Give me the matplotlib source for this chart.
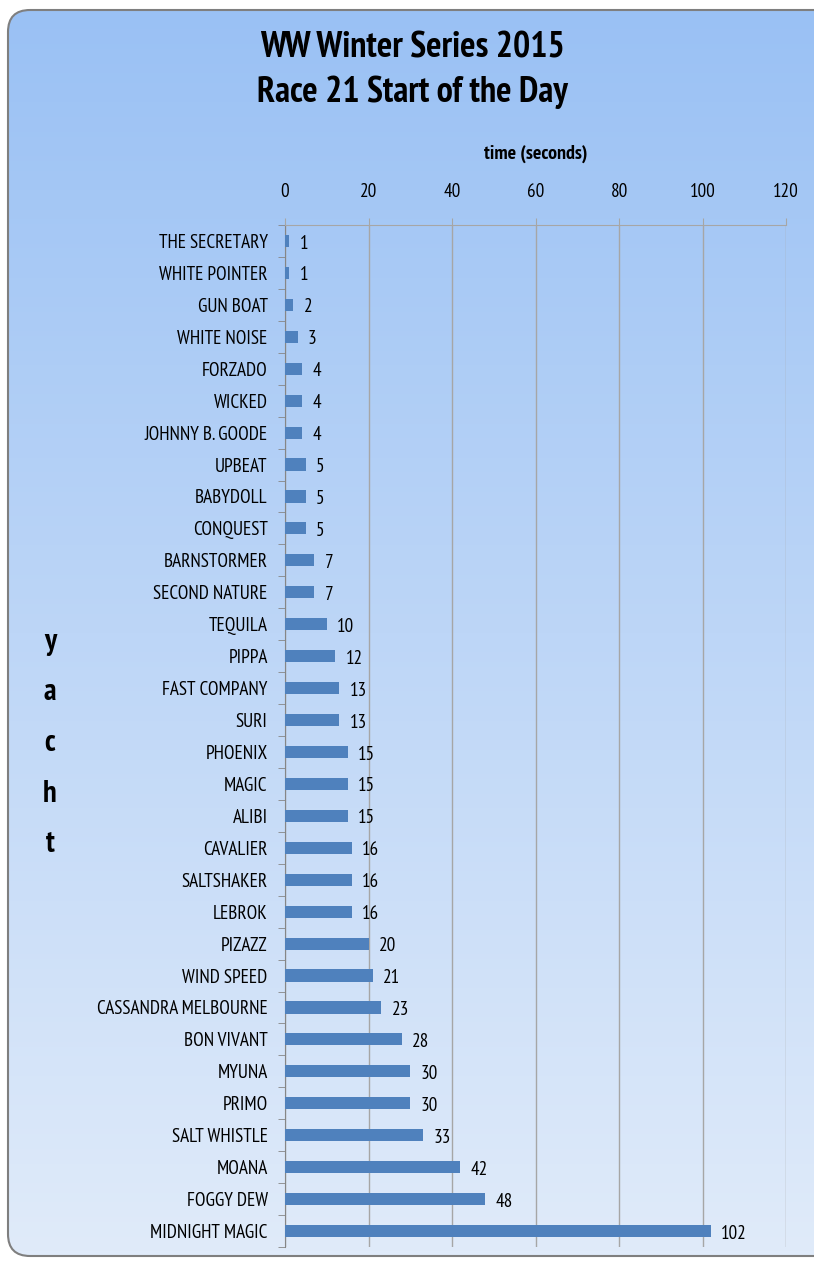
import numpy as np
import matplotlib.pyplot as plt
from matplotlib.patches import FancyBboxPatch

yachts = ['THE SECRETARY', 'WHITE POINTER', 'GUN BOAT', 'WHITE NOISE', 'FORZADO',
          'WICKED', 'JOHNNY B. GOODE', 'UPBEAT', 'BABYDOLL', 'CONQUEST',
          'BARNSTORMER', 'SECOND NATURE', 'TEQUILA', 'PIPPA', 'FAST COMPANY',
          'SURI', 'PHOENIX', 'MAGIC', 'ALIBI', 'CAVALIER', 'SALTSHAKER', 'LEBROK',
          'PIZAZZ', 'WIND SPEED', 'CASSANDRA MELBOURNE', 'BON VIVANT', 'MYUNA',
          'PRIMO', 'SALT WHISTLE', 'MOANA', 'FOGGY DEW', 'MIDNIGHT MAGIC']
seconds = [1, 1, 2, 3, 4, 4, 4, 5, 5, 5, 7, 7, 10, 12, 13, 13, 15, 15, 15,
           16, 16, 16, 20, 21, 23, 28, 30, 30, 33, 42, 48, 102]
x_ticks = [0, 20, 40, 60, 80, 100, 120]

plt.rcParams['font.family'] = ['PT Sans Narrow', 'DejaVu Sans']

fig = plt.figure(figsize=(8.14, 12.62), dpi=100)

# background panel with gradient
bg = fig.add_axes([0, 0, 1, 1])
bg.set_xlim(0, 814)
bg.set_ylim(1262, 0)
bg.axis('off')
grad = np.linspace(0, 1, 256).reshape(-1, 1)
top = np.array([0x9a, 0xc1, 0xf4]) / 255
bot = np.array([0xe0, 0xeb, 0xfa]) / 255
img = top + (bot - top) * grad[..., None]
box = FancyBboxPatch((8, 10), 830, 1246, boxstyle='round,pad=0,rounding_size=22',
                     facecolor='none', edgecolor='#7f7f7f', linewidth=1.5, zorder=3)
bg.add_patch(box)
im = bg.imshow(img, extent=[8, 838, 1256, 10], aspect='auto', zorder=1)
im.set_clip_path(box)

bg.text(412, 48, 'WW Winter Series 2015', ha='center', va='center',
        fontsize=26, fontweight='bold', zorder=4)
bg.text(412, 92, 'Race 21 Start of the Day', ha='center', va='center',
        fontsize=26, fontweight='bold', zorder=4)
# vertical "yacht" label, one letter per line
for i, ch in enumerate('yacht'):
    bg.text(50, 650 + 50.5 * i, ch, ha='center', va='baseline',
            fontsize=22, fontweight='bold', zorder=4)

ax = fig.add_axes([285 / 814, 1 - 1247 / 1262, 501 / 814, 1022 / 1262])
ax.patch.set_alpha(0)
pos = np.arange(len(yachts))
ax.barh(pos, seconds, height=0.38, color='#4f81bd', zorder=3)
for p, v in zip(pos, seconds):
    ax.text(v + 2.5, p + 0.08, str(v), va='center', ha='left', fontsize=13.8)

ax.set_ylim(len(yachts) - 0.5, -0.5)
ax.set_xlim(0, 120)
ax.xaxis.tick_top()
ax.xaxis.set_label_position('top')
ax.set_xticks(x_ticks)
ax.tick_params(axis='x', length=5, color='#a6a6a6', direction='out', pad=12.5,
               labelsize=13.8)
ax.set_xlabel('time (seconds)', fontsize=14.4, fontweight='bold', labelpad=17)
ax.set_yticks(pos)
ax.set_yticklabels(yachts, fontsize=13.8)
ax.tick_params(axis='y', which='major', length=0, pad=12.5)
ax.set_yticks(np.arange(-0.5, len(yachts), 1), minor=True)
ax.tick_params(axis='y', which='minor', length=5, color='#868686', direction='out')
ax.grid(axis='x', color='#a6a6a6', linewidth=1, zorder=0)
for s in ['right', 'bottom']:
    ax.spines[s].set_visible(False)
ax.spines['left'].set_color('#868686')
ax.spines['top'].set_color('#a6a6a6')

fig.savefig('out.png', dpi=100)
